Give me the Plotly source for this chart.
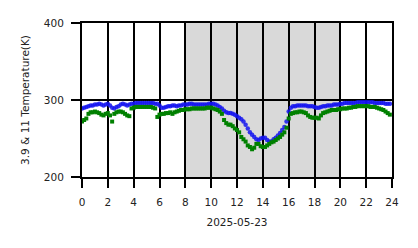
import plotly.graph_objects as go

# 10-minute samples, 0..23h50
hours = [i / 6 for i in range(144)]

blue_39 = [
    289, 290, 291, 292, 293, 293,
    294, 294, 295, 294, 293, 294,
    295, 293, 290, 289, 291, 292,
    294, 295, 294, 293, 294, 295,
    295, 296, 296, 296, 296, 296,
    296, 296, 296, 296, 295, 295,
    293, 290, 290, 291, 292, 292,
    293, 293, 292, 293, 293, 294,
    294, 294, 295, 295, 294, 294,
    294, 294, 294, 294, 294, 295,
    295, 295, 294, 293, 291, 289,
    286, 284, 283, 283, 282, 281,
    279, 277, 275, 272, 268, 263,
    258, 255, 252, 249, 248, 250,
    251, 251, 248, 246, 246, 249,
    251, 254, 257, 261, 265, 272,
    285, 290, 292, 292, 293, 293,
    293, 293, 293, 292, 292, 292,
    291, 290, 290, 291, 292, 292,
    293, 293, 293, 294, 294, 294,
    295, 295, 296, 296, 296, 296,
    296, 296, 297, 297, 297, 297,
    297, 297, 297, 297, 296, 296,
    296, 296, 296, 295, 295, 295,
]

green_11 = [
    272, 274, 276, 282, 284, 284,
    285, 284, 283, 281, 280, 282,
    283, 280, 272, 282, 284, 285,
    285, 284, 282, 280, 279, 289,
    290, 291, 291, 291, 291, 291,
    291, 291, 291, 290, 289, 278,
    281, 282, 282, 283, 283, 284,
    282, 284, 285, 286, 287, 287,
    288, 288, 288, 289, 289, 289,
    289, 289, 289, 289, 290, 290,
    290, 289, 288, 287, 285, 282,
    274, 270, 268, 268, 266, 263,
    261, 258, 252, 249, 246, 241,
    239, 236, 238, 243, 243, 240,
    239, 239, 241, 243, 245, 246,
    248, 250, 252, 255, 258, 264,
    276, 282, 283, 284, 284, 285,
    285, 284, 283, 280, 278, 277,
    277, 277, 276, 280, 283, 284,
    285, 286, 287, 287, 287, 288,
    288, 289, 289, 289, 290, 290,
    291, 291, 292, 292, 292, 292,
    292, 292, 291, 291, 291, 290,
    289, 288, 287, 285, 283, 281,
]

x_ticks = list(range(0, 25, 2))
y_ticks = [200, 300, 400]
night_start, night_end = 8, 20
date_label = "2025-05-23"
y_title = "3.9 & 11 Temperature(K)"

font = dict(family="DejaVu Sans", size=10.5, color="#222")

fig = go.Figure()
fig.add_trace(go.Scatter(
    x=hours, y=blue_39, mode="markers",
    marker=dict(color="rgba(20,20,240,0.85)", size=4.5, symbol="circle", line=dict(width=0)),
    showlegend=False,
))
fig.add_trace(go.Scatter(
    x=hours, y=green_11, mode="markers",
    marker=dict(color="#008000", size=4, symbol="square", line=dict(width=0)),
    showlegend=False,
))

fig.add_shape(type="rect", xref="x", yref="y", x0=night_start, x1=night_end,
              y0=200, y1=400, fillcolor="#d9d9d9", line=dict(width=0), layer="below")

fig.update_layout(
    width=418, height=248,
    margin=dict(l=82, r=26, t=23, b=71),
    paper_bgcolor="white", plot_bgcolor="white",
    font=font,
    xaxis=dict(
        range=[0, 24], tickvals=x_ticks, ticktext=[str(t) for t in x_ticks],
        showgrid=True, gridcolor="black", gridwidth=2,
        showline=True, linecolor="black", linewidth=2, mirror=True,
        ticks="outside", ticklen=9, tickwidth=2, tickcolor="black",
        ticklabelstandoff=5,
        zeroline=False, title=dict(text=date_label, font=font, standoff=12),
        tickfont=font,
    ),
    yaxis=dict(
        range=[200, 400], tickvals=y_ticks,
        showgrid=True, gridcolor="black", gridwidth=2,
        showline=True, linecolor="black", linewidth=2, mirror=True,
        ticks="outside", ticklen=9, tickwidth=2, tickcolor="black",
        ticklabelstandoff=5,
        zeroline=False, title=dict(text=y_title, font=font, standoff=12),
        tickfont=font,
    ),
)

fig.write_html("out.html")
